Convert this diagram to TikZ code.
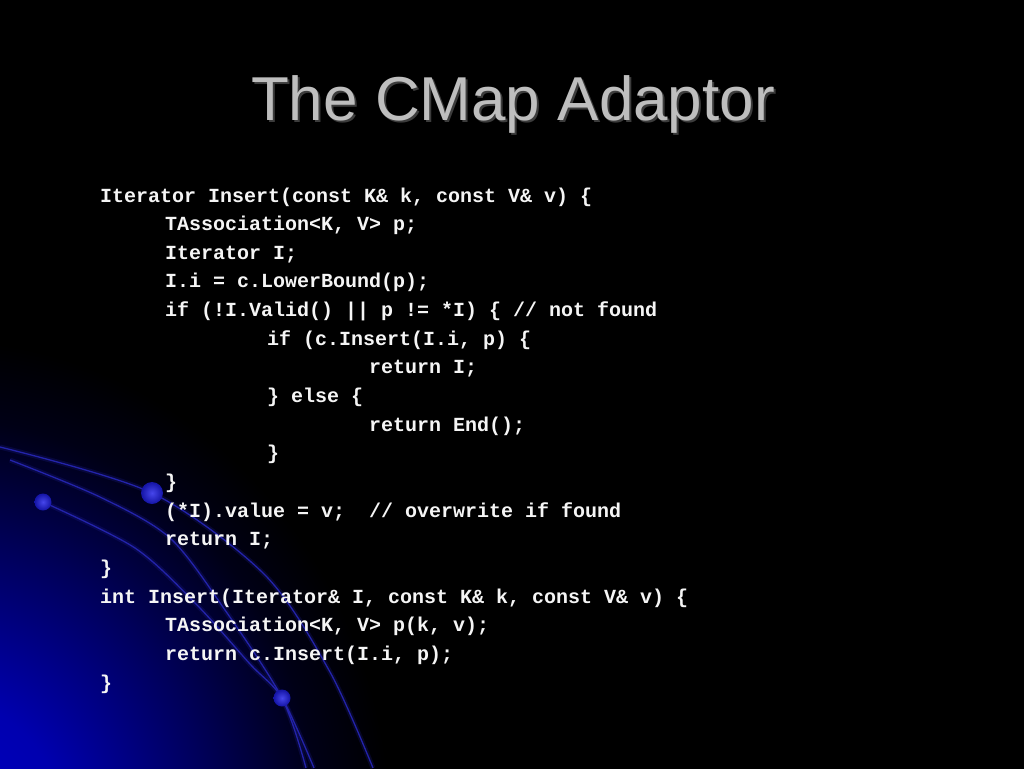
\documentclass[tikz,border=0pt]{standalone}
\usepackage{fontspec}
\setmainfont{Liberation Sans}
\newfontfamily\slidecode{Liberation Mono}
\definecolor{titlegray}{RGB}{190,190,190}
\definecolor{titleshade}{RGB}{60,60,60}
\definecolor{codewhite}{RGB}{245,245,245}
\definecolor{arcblue}{RGB}{35,35,170}
\definecolor{dotblue}{RGB}{20,20,165}
\definecolor{dotlight}{RGB}{70,70,235}
\definecolor{glowblue}{RGB}{0,0,200}
\definecolor{glowhigh}{RGB}{0,0,175}
\definecolor{glowmid}{RGB}{0,0,90}
\definecolor{glowlow}{RGB}{0,0,22}
\pgfdeclareradialshading{cornerglow}{\pgfpoint{0bp}{0bp}}{color(0bp)=(glowblue); color(2.6bp)=(glowhigh); color(5.6bp)=(glowmid); color(7.9bp)=(glowlow); color(9.4bp)=(black); color(50bp)=(black)}
\begin{document}
\begin{tikzpicture}[x=1pt,y=-1pt,
	codeline/.style={anchor=base west,inner sep=0pt,text=codewhite,font=\slidecode\bfseries\fontsize{20}{24}\selectfont},
	arcline/.style={draw=arcblue,line width=1.3pt},
	arcglow/.style={draw=arcblue,line width=5pt,opacity=0.2},
	bluedot/.style={inner color=dotlight,outer color=dotblue}]
		
		\useasboundingbox (0,0) rectangle (1024,768);
		\clip (0,0) rectangle (1024,768);
		\fill[black] (0,0) rectangle (1024,768);
		\shade[shading=cornerglow] (-60-1200,836-1320) rectangle (-60+1200,836+1320);
		
		\draw[arcglow] plot[smooth] coordinates {(0,447) (152,493) (265,575) (330,672) (373,768)};
		\draw[arcglow] plot[smooth] coordinates {(10,460) (100,497) (170,538) (225,610) (282,698) (306,768)};
		\draw[arcglow] plot[smooth] coordinates {(43,502) (135,548) (197,605) (250,664) (282,698) (314,768)};
		\draw[arcline] plot[smooth] coordinates {(0,447) (152,493) (265,575) (330,672) (373,768)};
		\draw[arcline] plot[smooth] coordinates {(10,460) (100,497) (170,538) (225,610) (282,698) (306,768)};
		\draw[arcline] plot[smooth] coordinates {(43,502) (135,548) (197,605) (250,664) (282,698) (314,768)};
		\shade[bluedot] (152,493) circle (11);
		\shade[bluedot] (43,502) circle (8.5);
		\shade[bluedot] (282,698) circle (8.5);
		
		\node[anchor=base,inner sep=0pt,text=titleshade,font=\fontsize{62}{70}\selectfont] (ts) at (515,122) {The CMap Adaptor};
		\node[anchor=base,inner sep=0pt,text=titlegray,font=\fontsize{62}{70}\selectfont] (t) at (513,120) {The CMap Adaptor};
		
		\node[codeline] (c1) at (100,202) {Iterator Insert(const K\& k, const V\& v) \{};
		\node[codeline] (c2) at (165,202+1*28.65) {TAssociation<K, V> p;};
		\node[codeline] (c3) at (165,202+2*28.65) {Iterator I;};
		\node[codeline] (c4) at (165,202+3*28.65) {I.i = c.LowerBound(p);};
		\node[codeline] (c5) at (165,202+4*28.65) {if (!I.Valid() || p != *I) \{ // not found};
		\node[codeline] (c6) at (267,202+5*28.65) {if (c.Insert(I.i, p) \{};
		\node[codeline] (c7) at (369,202+6*28.65) {return I;};
		\node[codeline] (c8) at (267,202+7*28.65) {\} else \{};
		\node[codeline] (c9) at (369,202+8*28.65) {return End();};
		\node[codeline] (c10) at (267,202+9*28.65) {\}};
		\node[codeline] (c11) at (165,202+10*28.65) {\}};
		\node[codeline] (c12) at (165,202+11*28.65) {(*I).value = v;\ \ // overwrite if found};
		\node[codeline] (c13) at (165,202+12*28.65) {return I;};
		\node[codeline] (c14) at (100,202+13*28.65) {\}};
		\node[codeline] (c15) at (100,202+14*28.65) {int Insert(Iterator\& I, const K\& k, const V\& v) \{};
		\node[codeline] (c16) at (165,202+15*28.65) {TAssociation<K, V> p(k, v);};
		\node[codeline] (c17) at (165,202+16*28.65) {return c.Insert(I.i, p);};
		\node[codeline] (c18) at (100,202+17*28.65) {\}};
		\end{tikzpicture}
\end{document}
